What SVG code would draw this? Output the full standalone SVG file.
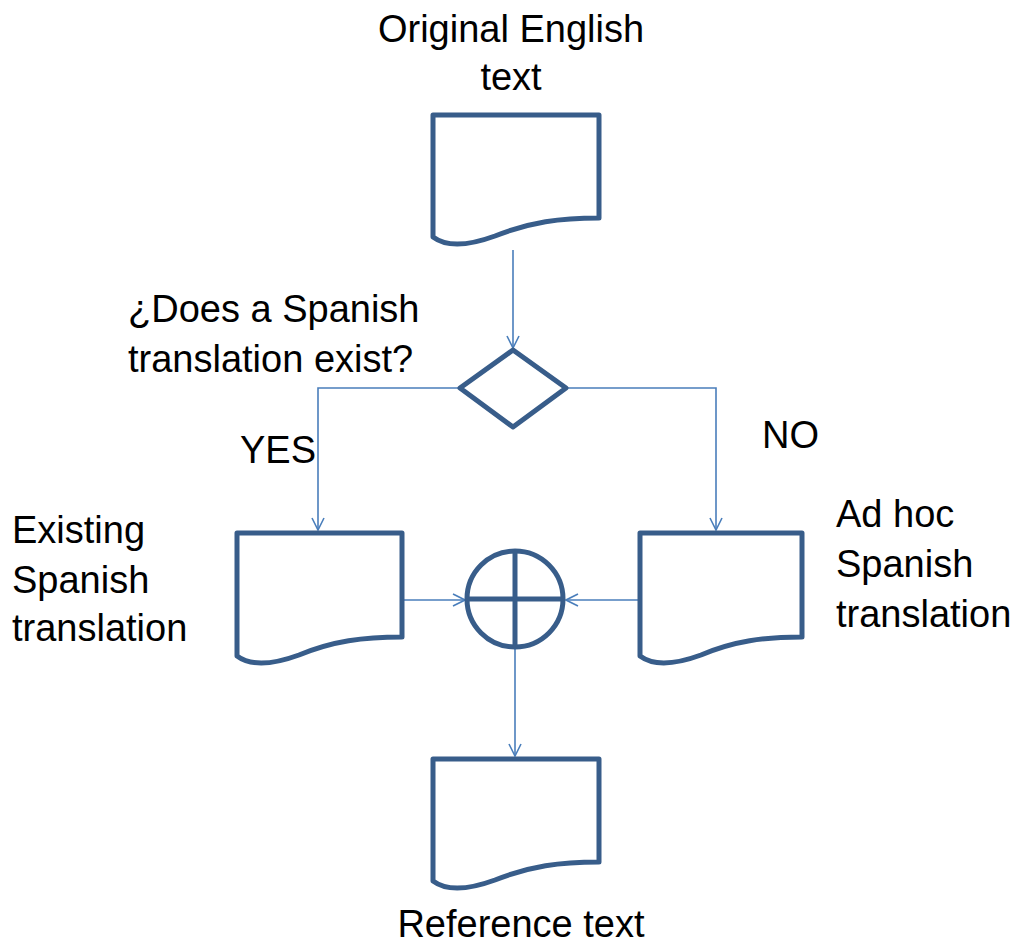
<svg xmlns="http://www.w3.org/2000/svg" width="1028" height="945" viewBox="0 0 1028 945">
  <style>
    .shape { fill: #ffffff; stroke: #385d8a; stroke-width: 5; stroke-linejoin: round; }
    .conn { fill: none; stroke: #4a7ebb; stroke-width: 1.6; }
    .label { font-family: "Liberation Sans", Arial, sans-serif; font-size: 38px; fill: #000000; }
  </style>
  <defs>
    <marker id="arrow" viewBox="0 0 14 14" refX="13" refY="7" markerWidth="14" markerHeight="14" markerUnits="userSpaceOnUse" orient="auto">
      <path d="M1,1 L13,7 L1,13" fill="none" stroke="#4a7ebb" stroke-width="1.6"/>
    </marker>
  </defs>

  <rect width="1028" height="945" fill="#ffffff"/>

  <!-- connectors -->
  <g id="connectors">
    <path class="conn" d="M513,250 V348" marker-end="url(#arrow)"/>
    <path class="conn" d="M460,388 H318 V530" marker-end="url(#arrow)"/>
    <path class="conn" d="M567,388 H716 V530" marker-end="url(#arrow)"/>
    <path class="conn" d="M403,600 H465" marker-end="url(#arrow)"/>
    <path class="conn" d="M640,600 H566" marker-end="url(#arrow)"/>
    <path class="conn" d="M515,647 V756" marker-end="url(#arrow)"/>
  </g>

  <!-- source document -->
  <g id="original">
    <path class="shape" d="M433,115 H599 V218 C560,218 530,222 495,236 C465,247 445,246 433,237 Z"/>
    <text class="label" x="511" y="42" text-anchor="middle">Original English</text>
    <text class="label" x="511" y="90" text-anchor="middle">text</text>
  </g>

  <!-- decision -->
  <g id="decision">
    <path class="shape" d="M513,350 L566,388 L513,427 L460,388 Z"/>
    <text class="label" x="128" y="322">¿Does a Spanish</text>
    <text class="label" x="128" y="372">translation exist?</text>
  </g>

  <g id="yes-label">
    <text class="label" x="240" y="463">YES</text>
  </g>
  <g id="no-label">
    <text class="label" x="762" y="448">NO</text>
  </g>

  <!-- existing translation document -->
  <g id="existing">
    <path class="shape" d="M237,533 H402 V637 C363,637 333,641 299,655 C269,666 249,665 237,656 Z"/>
    <text class="label" x="12" y="543">Existing</text>
    <text class="label" x="12" y="593">Spanish</text>
    <text class="label" x="12" y="641">translation</text>
  </g>

  <!-- ad hoc translation document -->
  <g id="adhoc">
    <path class="shape" d="M640,533 H802 V637 C764,637 734,641 701,655 C671,666 652,665 640,656 Z"/>
    <text class="label" x="836" y="527">Ad hoc</text>
    <text class="label" x="836" y="577">Spanish</text>
    <text class="label" x="836" y="627">translation</text>
  </g>

  <!-- merge (summing junction) -->
  <g id="merge">
    <circle class="shape" cx="515" cy="599" r="48"/>
    <path class="shape" d="M467,599 H563 M515,551 V647" fill="none"/>
  </g>

  <!-- reference document -->
  <g id="reference">
    <path class="shape" d="M433,759 H599 V862 C560,862 530,866 495,880 C465,891 445,890 433,881 Z"/>
    <text class="label" x="521" y="937" text-anchor="middle">Reference text</text>
  </g>
</svg>
